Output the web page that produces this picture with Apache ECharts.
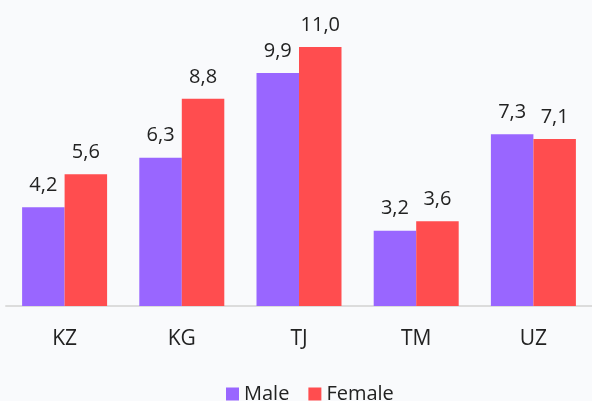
<!DOCTYPE html>
<html>
<head>
<meta charset="utf-8">
<script src="https://cdn.jsdelivr.net/npm/echarts@6/dist/echarts.min.js"></script>
<style>
  html, body { margin: 0; padding: 0; background: #f9fafc; }
  #graph { width: 592px; height: 401px; }
</style>
</head>
<body>
<div id="graph"></div>
<script>
// 데이터
const categories = ['KZ', 'KG', 'TJ', 'TM', 'UZ'];
const maleValues = [4.2, 6.3, 9.9, 3.2, 7.3];
const femaleValues = [5.6, 8.8, 11.0, 3.6, 7.1];
const seriesNames = ['Male', 'Female'];

const chartDom = document.getElementById('graph');
const myChart = echarts.init(chartDom);

const fontFamily = '"Open Sans", "Noto Sans", sans-serif';

function commaLabel(p) {
  return p.value.toFixed(1).replace('.', ',');
}

const option = {
  backgroundColor: '#f9fafc',
  textStyle: { fontFamily: fontFamily },
  animation: false,
  legend: {
    left: 221,
    top: 379,
    itemWidth: 13,
    itemHeight: 13,
    itemGap: 19,
    icon: 'rect',
    textStyle: {
      color: '#222222',
      fontSize: 20,
      fontFamily: fontFamily,
    },
    data: seriesNames,
  },
  grid: {
    left: 6,
    width: 591,
    top: 0,
    bottom: 95,
  },
  xAxis: {
    type: 'category',
    data: categories,
    axisLine: {
      lineStyle: { color: '#dcdcdc', width: 2 },
    },
    axisTick: { show: false },
    axisLabel: {
      margin: 23,
      color: '#222222',
      fontSize: 21,
      fontFamily: fontFamily,
    },
  },
  yAxis: {
    type: 'value',
    min: 0,
    max: 13,
    show: false,
    splitLine: { show: false },
  },
  series: [
    {
      name: seriesNames[0],
      type: 'bar',
      data: maleValues,
      barWidth: 42.5,
      barGap: '0%',
      itemStyle: { color: '#9966ff' },
      label: {
        show: true,
        position: 'top',
        distance: 12,
        color: '#222222',
        fontSize: 20,
        fontFamily: fontFamily,
        formatter: commaLabel,
      },
    },
    {
      name: seriesNames[1],
      type: 'bar',
      data: femaleValues,
      barWidth: 42.5,
      barGap: '0%',
      itemStyle: { color: '#ff4d4f' },
      label: {
        show: true,
        position: 'top',
        distance: 12,
        color: '#222222',
        fontSize: 20,
        fontFamily: fontFamily,
        formatter: commaLabel,
      },
    },
  ],
};

myChart.setOption(option);
</script>
</body>
</html>
